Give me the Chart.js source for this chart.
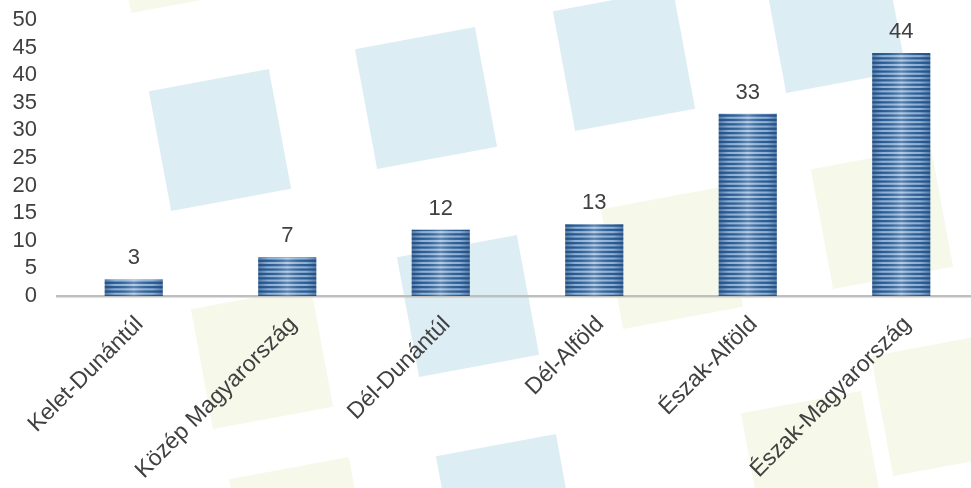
<!DOCTYPE html>
<html lang="hu">
<head>
  <meta charset="UTF-8">
  <title>Régiók</title>
  <script src="https://cdn.jsdelivr.net/npm/chart.js@4.4.0/dist/chart.umd.min.js"></script>
  <style>
  html, body {
    margin: 0;
    padding: 0;
    overflow: hidden;
    background: #ffffff;
  }
  #myChart {
    display: block;
  }
  </style>
</head>
<body>
<canvas id="myChart" width="978" height="488"></canvas>
<script>
    const regions = ['Kelet-Dunántúl', 'Közép Magyarország', 'Dél-Dunántúl', 'Dél-Alföld', 'Észak-Alföld', 'Észak-Magyarország'];
    const counts = [3, 7, 12, 13, 33, 44];
    const yTicks = [0, 5, 10, 15, 20, 25, 30, 35, 40, 45, 50];

    // decorative tilted squares behind the chart (canvas px)
    const blueSquares = [[220, 140], [426, 98], [624, 60], [835, 22], [468, 306], [507, 505]];
    const yellowSquares = [[262, 358], [672, 258], [882, 218], [812, 462], [942, 405], [300, 528], [180, -58]];

    const backdrop = {
        id: 'backdrop',
        beforeDraw: (chart) => {
            const ctx = chart.ctx;
            ctx.save();
            ctx.fillStyle = '#ffffff';
            ctx.fillRect(0, 0, chart.width, chart.height);
            const draw = (list, color) => {
                ctx.fillStyle = color;
                list.forEach(p => {
                    ctx.save();
                    ctx.translate(p[0], p[1]);
                    ctx.rotate(-10.5 * Math.PI / 180);
                    ctx.fillRect(-61, -61, 122, 122);
                    ctx.restore();
                });
            };
            draw(yellowSquares, '#f6f8ea');
            draw(blueSquares, '#ddedf4');
            ctx.restore();
        }
    };

    // shading over each bar + value labels
    const barDecor = {
        id: 'barDecor',
        afterDatasetsDraw: (chart) => {
            const ctx = chart.ctx;
            const meta = chart.getDatasetMeta(0);
            ctx.save();
            meta.data.forEach((bar, i) => {
                const left = bar.x - bar.width / 2;
                const g = ctx.createLinearGradient(left, 0, left + bar.width, 0);
                g.addColorStop(0, 'rgba(30,70,120,0.55)');
                g.addColorStop(0.18, 'rgba(30,70,120,0.1)');
                g.addColorStop(0.5, 'rgba(255,255,255,0.25)');
                g.addColorStop(0.82, 'rgba(30,70,120,0.1)');
                g.addColorStop(1, 'rgba(30,70,120,0.55)');
                ctx.fillStyle = g;
                ctx.fillRect(left, bar.y, bar.width, bar.base - bar.y);
                ctx.fillStyle = '#404040';
                ctx.font = '22px "Liberation Sans", Arial, sans-serif';
                ctx.textAlign = 'center';
                ctx.textBaseline = 'alphabetic';
                ctx.fillText(counts[i], bar.x, bar.y - 15);
            });
            ctx.restore();
        }
    };

    function stripes() {
        const c = document.createElement('canvas');
        c.width = 8;
        c.height = 44;
        const p = c.getContext('2d');
        p.fillStyle = '#9dbde0';
        p.fillRect(0, 0, 8, 44);
        p.fillStyle = '#2b5e96';
        for (let k = 0; k < 10; k++) {
            p.fillRect(0, k * 4.4, 8, 2.3);
        }
        return p.createPattern(c, 'repeat');
    }

    Chart.defaults.font.family = '"Liberation Sans", Arial, sans-serif';
    Chart.defaults.color = '#404040';

    var ctx = document.getElementById("myChart");
    var myChart = new Chart(ctx, {
        type: 'bar',
        data: {
          labels: regions,
          datasets: [{
            data: counts,
            backgroundColor: stripes(),
            borderWidth: 0,
            barPercentage: 0.378,
            categoryPercentage: 1
          }]
        },
        options: {
          responsive: false,
          animation: false,
          layout: {padding: {top: 20, right: 0, bottom: 0, left: 0}},
          scales: {
            y: {
              min: 0,
              max: 50,
              afterBuildTicks: (axis) => { axis.ticks = yTicks.map(v => ({value: v})); },
              afterFit: (axis) => { axis.width = 57; axis.paddingTop = 0; axis.paddingBottom = 0; },
              grid: {display: false},
              border: {display: false},
              ticks: {
                autoSkip: false,
                padding: 12,
                font: {size: 22},
                color: '#404040'
              }
            },
            x: {
              afterFit: (axis) => { axis.height = 192; },
              grid: {display: false},
              border: {display: true, color: '#bfbfbf', width: 2.5},
              ticks: {
                autoSkip: false,
                minRotation: 45,
                maxRotation: 45,
                padding: 7,
                labelOffset: 6,
                font: {size: 23},
                color: '#404040'
              }
            }
          },
          plugins: {
            legend: {display: false},
            tooltip: {enabled: false}
          }
        },
        plugins: [backdrop, barDecor]
      });
    </script>
</body>
</html>
